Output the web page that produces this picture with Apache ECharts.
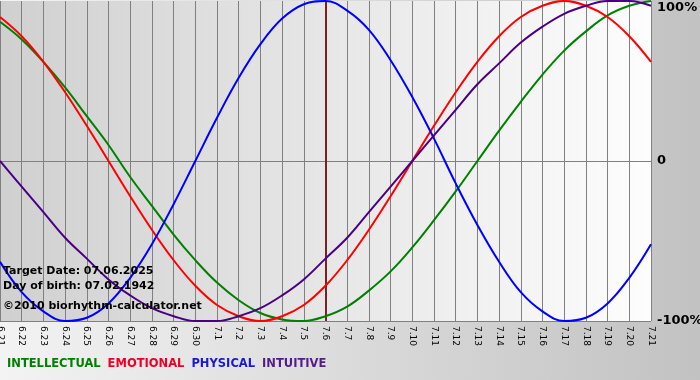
<!DOCTYPE html>
<html><head><meta charset="utf-8">
<script src="https://cdn.jsdelivr.net/npm/echarts@6/dist/echarts.min.js"></script>
<style>html,body{margin:0;padding:0;}#c{width:700px;height:380px;}</style>
</head><body><div id="c"></div>
<script>
var days = ['6.21','6.22','6.23','6.24','6.25','6.26','6.27','6.28','6.29','6.30','7.1','7.2','7.3','7.4','7.5','7.6','7.7','7.8','7.9','7.10','7.11','7.12','7.13','7.14','7.15','7.16','7.17','7.18','7.19','7.20','7.21'];
var intellectual = [87,76,62,46,28,10,-10,-28,-46,-62,-76,-87,-95,-99,-100,-97,-91,-81,-69,-54,-37,-19,0,19,37,54,69,81,91,97,100];
var emotional = [90,78,62,43,22,0,-22,-43,-62,-78,-90,-97,-100,-97,-90,-78,-62,-43,-22,0,22,43,62,78,90,97,100,97,90,78,62];
var physical = [-63,-82,-94,-100,-98,-89,-73,-52,-27,0,27,52,73,89,98,100,94,82,63,40,14,-14,-40,-63,-82,-94,-100,-98,-89,-73,-52];
var intuitive = [0,-16,-32,-48,-61,-74,-84,-92,-97,-100,-100,-97,-92,-84,-74,-61,-48,-32,-16,0,16,32,48,61,74,84,92,97,100,100,97];
var targetDay = '7.6';
var infoLines = ['Target Date: 07.06.2025','Day of birth: 07.02.1942','\u00a92010 biorhythm-calculator.net'];
var names = ['INTELLECTUAL','EMOTIONAL','PHYSICAL','INTUITIVE'];
var colors = ['#008000','#ff0000','#0000ff','#4b0082'];
var legendColors = ['#008000','#ee0022','#1a1acc','#551a8b'];

var chart = echarts.init(document.getElementById('c'), null, {renderer:'canvas'});
var font = 'DejaVu Sans, Verdana, sans-serif';
function mk(i, data){
  return {name:names[i], type:'line', data:data, smooth:0.4, symbol:'none',
    lineStyle:{color:colors[i], width:2}, itemStyle:{color:colors[i]}, z:3};
}
var series = [mk(0,intellectual), mk(1,emotional), mk(2,physical), mk(3,intuitive)];
series[3].markLine = {silent:true, symbol:'none', label:{show:false},
  lineStyle:{color:'#7a2222', width:2, type:'solid'}, data:[{xAxis:targetDay}], z:2};
chart.setOption({
  animation:false,
  backgroundColor:{type:'linear',x:0,y:0,x2:1,y2:0,colorStops:[{offset:0,color:'#f3f3f3'},{offset:1,color:'#c2c2c2'}]},
  grid:{left:0,right:49,top:1,bottom:59,show:true,borderWidth:0,outerBoundsMode:'none',containLabel:false,
    backgroundColor:{type:'linear',x:0,y:0,x2:1,y2:0,colorStops:[{offset:0,color:'#d0d0d0'},{offset:1,color:'#fdfdfd'}]}},
  legend:{left:2,top:352,icon:'none',itemWidth:0,itemGap:7,
    data:names.map(function(n,i){return {name:n,textStyle:{color:legendColors[i]}};}),
    textStyle:{fontFamily:font,fontWeight:'bold',fontSize:11.5,padding:[0,0,0,-5]}},
  xAxis:{type:'category',data:days,boundaryGap:false,
    axisLine:{show:true,lineStyle:{color:'#808080'}},
    axisTick:{show:true,length:4,interval:0,lineStyle:{color:'#808080'}},
    splitLine:{show:true,interval:0,lineStyle:{color:'#808080',width:1}},
    axisLabel:{interval:0,rotate:-90,fontSize:9,color:'#000',fontFamily:font,margin:5}},
  yAxis:{type:'value',position:'right',min:-100,max:100,interval:100,
    axisLine:{show:false},axisTick:{show:false},
    splitLine:{show:true,lineStyle:{color:['#808080','#808080','rgba(0,0,0,0)'],width:1}},
    axisLabel:{margin:6,color:'#000',fontWeight:'bold',fontSize:13,fontFamily:font,
      verticalAlignMaxLabel:'top',
      formatter:function(v){return v===0?'0':v+'%';}}},
  graphic:infoLines.map(function(t,i){
    return {type:'text',left:3,top:[266,281,301][i],z:10,
      style:{text:t,fill:'#000',font:'bold 11px '+font}};
  }),
  series:series
});
</script></body></html>
